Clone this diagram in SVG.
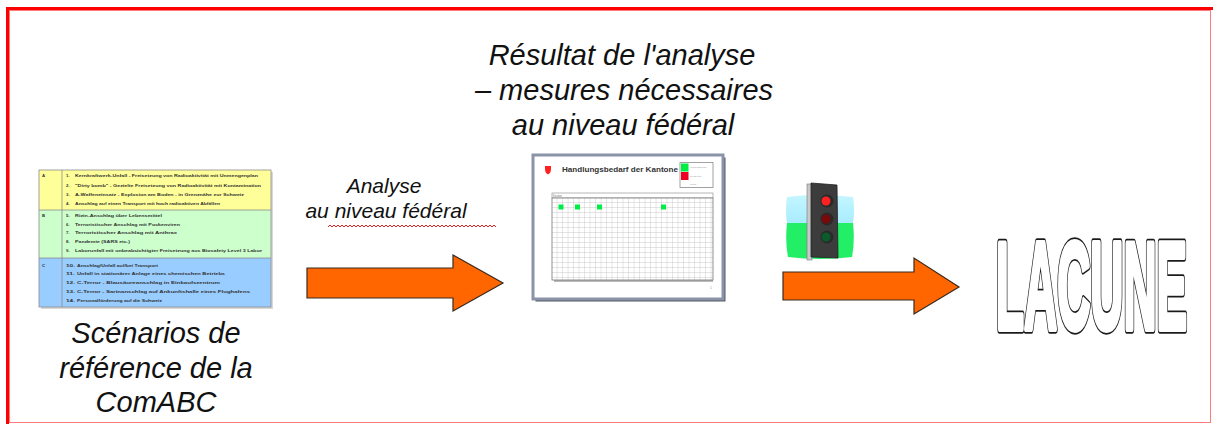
<svg xmlns="http://www.w3.org/2000/svg" width="1213" height="424" viewBox="0 0 1213 424">
<style>
.cap{font-family:"Liberation Sans",Arial,sans-serif;font-style:italic;fill:#111;text-anchor:middle}
.big{font-size:29px}
.mid{font-size:21px}
.tb{font-family:"Liberation Sans",Arial,sans-serif;font-size:4.3px;font-weight:bold;fill:#333}
.arrow{fill:#ff6600;stroke:#3a2a20;stroke-width:1.2;stroke-linejoin:miter}
.sec{stroke:#8c8c8c;stroke-width:0.8}
.lac{font-family:"Liberation Sans",Arial,sans-serif;font-size:124px;font-weight:bold;stroke-linejoin:round}
</style>
<defs>
<pattern id="grid" x="552" y="198" width="5.5" height="5" patternUnits="userSpaceOnUse">
<rect width="5.5" height="5" fill="#ffffff"/>
<path d="M5.5,0 V5 M0,5 H5.5" stroke="#a8a8a8" stroke-width="0.6" fill="none"/>
</pattern>
<linearGradient id="sky" x1="0" y1="0" x2="0" y2="1">
<stop offset="0" stop-color="#c4f6ff"/>
<stop offset="1" stop-color="#a8ecff"/>
</linearGradient>
</defs>
<rect width="1213" height="424" fill="#ffffff"/>
<g id="frame">
<rect x="9.5" y="10.5" width="1201" height="412" fill="none" stroke="#ff7a7a" stroke-width="1"/>
<rect x="6" y="7" width="1207" height="3" fill="#ff0000"/>
<rect x="6" y="7" width="3" height="417" fill="#ff0000"/>
</g>
<g id="node-table">
<rect x="41" y="172" width="232" height="137" fill="#d8d8d8"/>
<rect x="39" y="170" width="232" height="40" fill="#ffff99"/>
<rect x="39" y="210" width="232" height="48" fill="#ccffcc"/>
<rect x="39" y="258" width="232" height="49" fill="#99ccff"/>
<rect x="39" y="170" width="232" height="137" fill="none" stroke="#8c8c8c" stroke-width="0.8"/>
<line class="sec" x1="39" y1="210" x2="271" y2="210"/>
<line class="sec" x1="39" y1="258" x2="271" y2="258"/>
<line class="sec" x1="62" y1="170" x2="62" y2="307"/>
<text class="tb" x="42" y="177">A</text>
<text class="tb" x="42" y="216.5">B</text>
<text class="tb" x="42" y="266.5">C</text>
<text class="tb" x="66" y="177">1.</text>
<text class="tb" x="75" y="177" textLength="183" lengthAdjust="spacingAndGlyphs">Kernkraftwerk-Unfall - Freisetzung von Radioaktivität mit Unmengenplan</text>
<text class="tb" x="66" y="186.5">2.</text>
<text class="tb" x="75" y="186.5" textLength="186" lengthAdjust="spacingAndGlyphs">"Dirty bomb" - Gezielte Freisetzung von Radioaktivität mit Kontamination</text>
<text class="tb" x="66" y="195.5">3.</text>
<text class="tb" x="75" y="195.5" textLength="169" lengthAdjust="spacingAndGlyphs">A-Waffeneinsatz - Explosion am Boden - in Grenznähe zur Schweiz</text>
<text class="tb" x="66" y="205">4.</text>
<text class="tb" x="75" y="205" textLength="145" lengthAdjust="spacingAndGlyphs">Anschlag auf einen Transport mit hoch radioaktiven Abfällen</text>
<text class="tb" x="66" y="216.5">5.</text>
<text class="tb" x="75" y="216.5" textLength="87" lengthAdjust="spacingAndGlyphs">Rizin-Anschlag über Lebensmittel</text>
<text class="tb" x="66" y="225.5">6.</text>
<text class="tb" x="75" y="225.5" textLength="105" lengthAdjust="spacingAndGlyphs">Terroristischer Anschlag mit Pockenviren</text>
<text class="tb" x="66" y="234">7.</text>
<text class="tb" x="75" y="234" textLength="102" lengthAdjust="spacingAndGlyphs">Terroristischer Anschlag mit Anthrax</text>
<text class="tb" x="66" y="243">8.</text>
<text class="tb" x="75" y="243" textLength="55" lengthAdjust="spacingAndGlyphs">Pandemie (SARS etc.)</text>
<text class="tb" x="66" y="252">9.</text>
<text class="tb" x="75" y="252" textLength="187" lengthAdjust="spacingAndGlyphs">Laborunfall mit unbeabsichtigter Freisetzung aus Biosafety Level 3 Labor</text>
<text class="tb" x="66" y="266.5" textLength="9" lengthAdjust="spacingAndGlyphs">10.</text>
<text class="tb" x="77" y="266.5" textLength="81" lengthAdjust="spacingAndGlyphs">Anschlag/Unfall auf/bei Transport</text>
<text class="tb" x="66" y="275" textLength="9" lengthAdjust="spacingAndGlyphs">11.</text>
<text class="tb" x="77" y="275" textLength="148" lengthAdjust="spacingAndGlyphs">Unfall in stationärer Anlage eines chemischen Betriebs</text>
<text class="tb" x="66" y="284" textLength="9" lengthAdjust="spacingAndGlyphs">12.</text>
<text class="tb" x="77" y="284" textLength="143" lengthAdjust="spacingAndGlyphs">C-Terror - Blausäureanschlag in Einkaufszentrum</text>
<text class="tb" x="66" y="293" textLength="9" lengthAdjust="spacingAndGlyphs">13.</text>
<text class="tb" x="77" y="293" textLength="173" lengthAdjust="spacingAndGlyphs">C-Terror - Sarinanschlag auf Ankunftshalle eines Flughafens</text>
<text class="tb" x="66" y="302" textLength="9" lengthAdjust="spacingAndGlyphs">14.</text>
<text class="tb" x="77" y="302" textLength="85" lengthAdjust="spacingAndGlyphs">Personalförderung auf die Schweiz</text>
</g>
<g id="label-scenarios">
<text class="cap big" x="156" y="343">Scénarios de</text>
<text class="cap big" x="156" y="378">référence de la</text>
<text class="cap big" x="156" y="412">ComABC</text>
</g>
<g id="label-resultat">
<text class="cap big" x="622" y="65">Résultat de l'analyse</text>
<text class="cap big" x="624" y="100">– mesures nécessaires</text>
<text class="cap big" x="623" y="135">au niveau fédéral</text>
</g>
<g id="label-analyse">
<text class="cap mid" x="384" y="193">Analyse</text>
<text class="cap mid" x="386" y="218">au niveau fédéral</text>
<path d="M328,227 l2,-2 l2,2 l2,-2 l2,2 l2,-2 l2,2 l2,-2 l2,2 l2,-2 l2,2 l2,-2 l2,2 l2,-2 l2,2 l2,-2 l2,2 l2,-2 l2,2 l2,-2 l2,2 l2,-2 l2,2 l2,-2 l2,2 l2,-2 l2,2 l2,-2 l2,2 l2,-2 l2,2 l2,-2 l2,2 l2,-2 l2,2 l2,-2 l2,2 l2,-2 l2,2 l2,-2 l2,2 l2,-2 l2,2 l2,-2 l2,2 l2,-2 l2,2 l2,-2 l2,2 l2,-2 l2,2 l2,-2 l2,2 l2,-2 l2,2 l2,-2 l2,2 l2,-2 l2,2 l2,-2 l2,2 l2,-2 l2,2 l2,-2 l2,2 l2,-2 l2,2 l2,-2 l2,2 l2,-2 l2,2 l2,-2 l2,2 l2,-2 l2,2 l2,-2 l2,2 l2,-2 l2,2 l2,-2 l2,2 l2,-2 l2,2 l2,-2 l2,2" fill="none" stroke="#e02020" stroke-width="1"/>
</g>
<g id="node-document">
<rect x="535.5" y="157.5" width="190" height="144" fill="#555a66"/>
<rect x="533" y="155" width="190" height="144" fill="#ffffff" stroke="#8a93a8" stroke-width="3"/>
<path d="M545,166 h6 v3 q0,4 -3,5.5 q-3,-1.5 -3,-5.5 z" fill="#ff2020"/>
<text x="562" y="171.5" font-family="'Liberation Sans',Arial,sans-serif" font-size="7.5" font-weight="bold" fill="#333" textLength="116" lengthAdjust="spacingAndGlyphs">Handlungsbedarf der Kantone</text>
<rect x="680" y="162.5" width="33" height="25" fill="#ffffff" stroke="#8a8a8a" stroke-width="0.8"/>
<rect x="681" y="163.5" width="7.5" height="8" fill="#00ee44"/>
<rect x="681" y="172" width="7.5" height="8" fill="#ee0022"/>
<g font-family="'Liberation Sans',Arial,sans-serif" font-size="2.2" fill="#999">
<text x="690" y="168">Handlungsbedarf</text>
<text x="690" y="176.5">kein Bedarf</text>
<text x="690" y="185">Unklar</text>
</g>
<rect x="552" y="193" width="161" height="5" fill="#ffffff" stroke="#888" stroke-width="0.6"/>
<text x="553" y="196.8" font-family="'Liberation Sans',Arial,sans-serif" font-size="2.8" fill="#777">Kanton</text>
<rect x="552" y="198" width="161" height="82" fill="url(#grid)" stroke="#777" stroke-width="0.8"/>
<rect x="558.5" y="204.5" width="5" height="5" fill="#00ee44"/>
<rect x="575" y="204.5" width="5" height="5" fill="#00ee44"/>
<rect x="597" y="204.5" width="5" height="5" fill="#00ee44"/>
<rect x="661" y="204.5" width="5" height="5" fill="#00ee44"/>
<line x1="554" y1="281" x2="713" y2="281" stroke="#555" stroke-width="0.8"/>
<text x="710" y="289" font-family="'Liberation Sans',Arial,sans-serif" font-size="3" fill="#888">1</text>
</g>
<g id="node-trafficlight">
<path d="M787,197 q30,-4 66,0 q2,14 0,26 l-66,0 q-2,-12 0,-26 z" fill="url(#sky)"/>
<path d="M787,223 l66,0 q2,18 -1,34 q-32,4 -64,0 q-3,-16 -1,-34 z" fill="#22ee66"/>
<rect x="807" y="184" width="5" height="76" fill="#c8c8c8" stroke="#777" stroke-width="0.6"/>
<path d="M811,183 l26,2 l1,73 l-27,-1 z" fill="#3c3c3c" stroke="#222" stroke-width="0.8"/>
<circle cx="827" cy="201" r="6.5" fill="#2a2a2a"/>
<circle cx="826" cy="201" r="4.5" fill="#ff2222"/>
<circle cx="827" cy="219" r="6.5" fill="#2a2a2a"/>
<circle cx="826" cy="219" r="4.5" fill="#7a0a0a"/>
<circle cx="827" cy="237" r="6.5" fill="#2a2a2a"/>
<circle cx="826" cy="237" r="4.5" fill="#0a5a2a"/>
</g>
<g id="node-lacune" transform="translate(996,328.5) scale(0.37,1)">
<text class="lac" x="0" y="0" fill="#1a1a1a" stroke="#1a1a1a" stroke-width="7" vector-effect="non-scaling-stroke">LACUNE</text>
<text class="lac" x="0" y="0" fill="#ffffff" stroke="#ffffff" stroke-width="4.4" vector-effect="non-scaling-stroke">LACUNE</text>
</g>
<g id="connectors">
<polygon class="arrow" points="307,268 453,268 453,255 503,283 453,311 453,298 307,298"/>
<polygon class="arrow" points="783,272 914,272 914,258 959,287 914,314 914,300 783,300"/>
</g>
</svg>
